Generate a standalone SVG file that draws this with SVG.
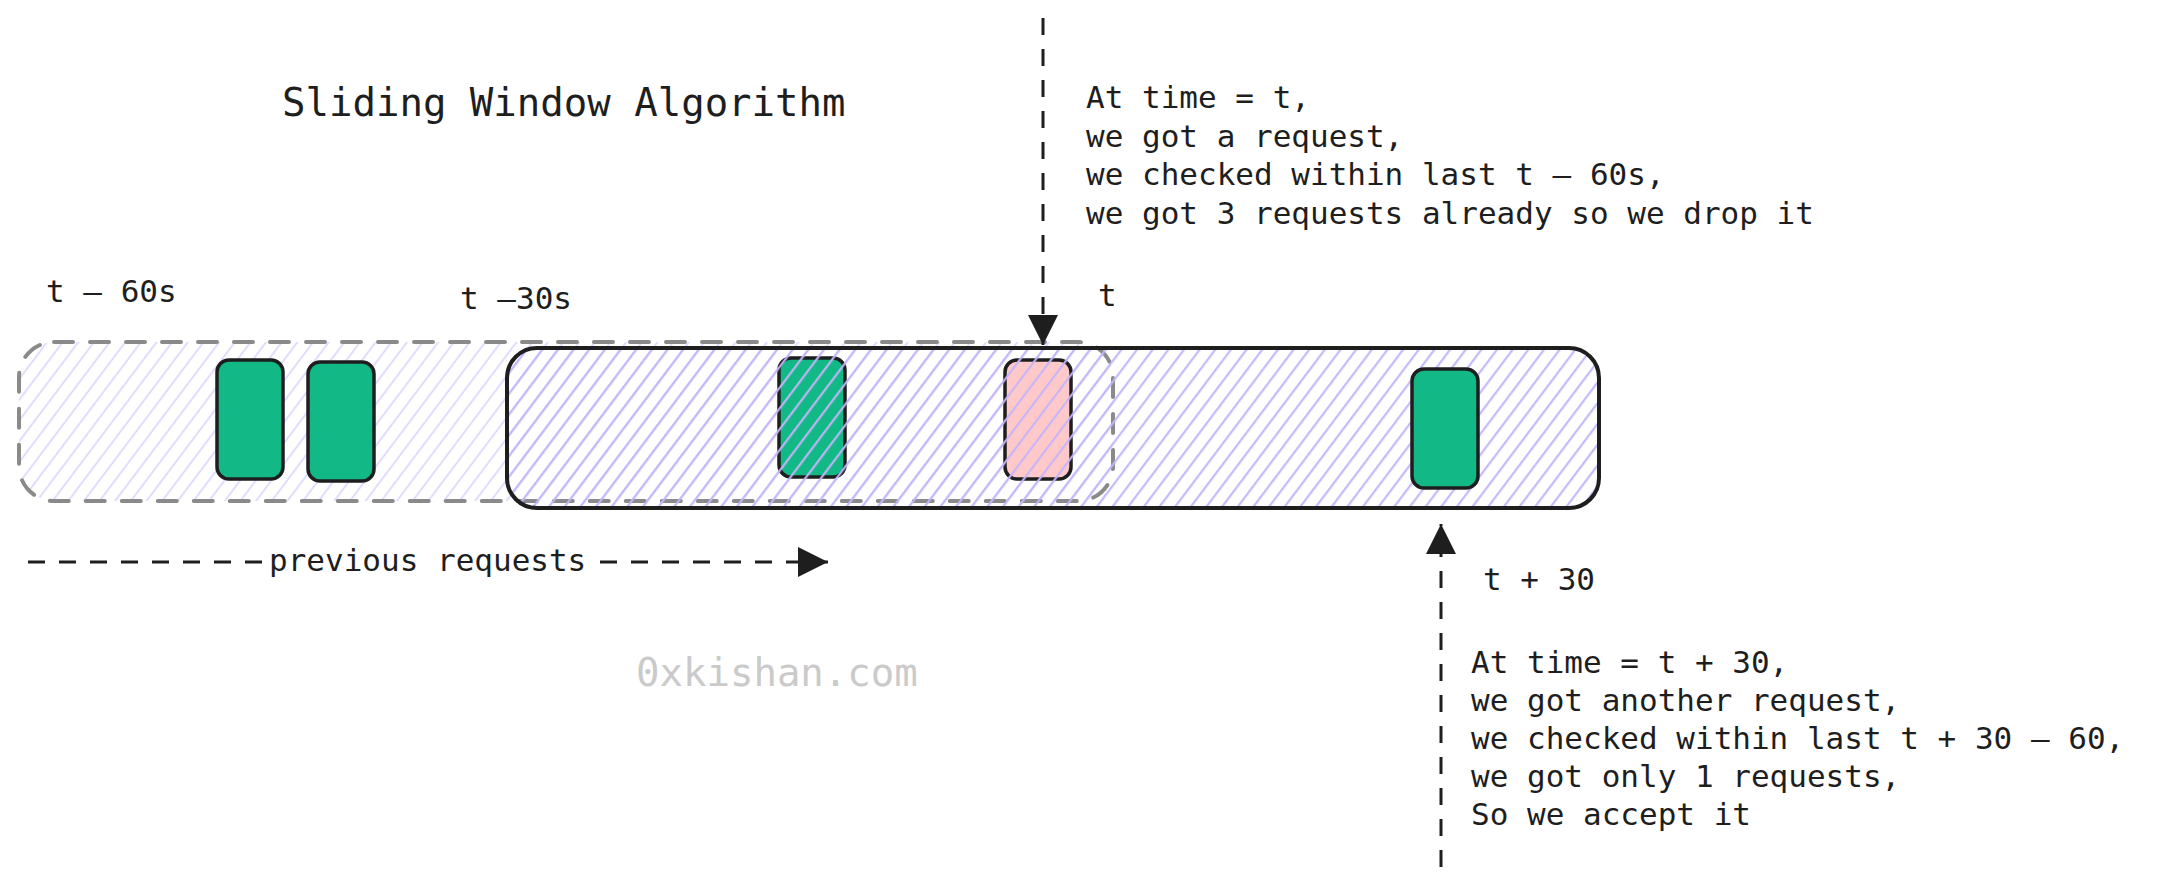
<svg xmlns="http://www.w3.org/2000/svg" width="2165" height="886" viewBox="0 0 2165 886">
<style>
  text { font-family: "DejaVu Sans Mono", "Liberation Mono", monospace; fill: #1e1e1e; }
  .lbl { font-size: 31px; }
  .title { font-size: 39px; }
  .mark { font-size: 39px; fill: #cacaca; }
  .box { stroke: #1e1e1e; stroke-width: 3.5; }
  .green { fill: #12b886; }
  .pink { fill: #ffc9c9; }
  .conn { fill: none; stroke: #1e1e1e; stroke-width: 3; stroke-dasharray: 17 14; }
</style>
<defs>
  <pattern id="hatchLight" patternUnits="userSpaceOnUse" width="12.5" height="12.5" patternTransform="rotate(37)">
    <line x1="6" y1="0" x2="6" y2="12.5" stroke="#ddd5fd" stroke-width="1.7"/>
  </pattern>
  <pattern id="hatchDark" patternUnits="userSpaceOnUse" width="12.5" height="12.5" patternTransform="rotate(37)">
    <line x1="6" y1="0" x2="6" y2="12.5" stroke="#c5b4fb" stroke-width="2.1"/>
  </pattern>
  <marker id="arrow" markerUnits="userSpaceOnUse" markerWidth="30" markerHeight="30" refX="30" refY="15" orient="auto">
    <path d="M0,0 L30,15 L0,30 Z" fill="#1e1e1e" stroke="none"/>
  </marker>
</defs>

<g id="title"><text class="title" x="282" y="116">Sliding Window Algorithm</text></g>

<g id="previous-window">
  <rect x="19" y="342" width="1094" height="159" rx="35" fill="url(#hatchLight)" stroke="#8a8a8a" stroke-width="4" stroke-dasharray="19 17" stroke-linecap="round"/>
</g>

<g id="req1"><rect class="box green" x="217" y="360" width="66" height="119" rx="12"/></g>
<g id="req2"><rect class="box green" x="308" y="362" width="66" height="119" rx="12"/></g>
<g id="req3"><rect class="box green" x="779" y="358" width="66" height="119" rx="12"/></g>
<g id="req-dropped"><rect class="box pink" x="1005" y="360" width="66" height="119" rx="12"/></g>

<g id="current-window">
  <rect x="507" y="348" width="1092" height="160" rx="30" fill="url(#hatchDark)" stroke="#1e1e1e" stroke-width="4"/>
</g>

<g id="req-accepted"><rect class="box green" x="1412" y="369" width="66" height="119" rx="12"/></g>

<g id="label-t-60"><text class="lbl" x="46" y="302">t – 60s</text></g>
<g id="label-t-30"><text class="lbl" x="460" y="309">t –30s</text></g>
<g id="label-t"><text class="lbl" x="1098" y="306">t</text></g>
<g id="label-t+30"><text class="lbl" x="1483" y="590">t + 30</text></g>

<g id="note-drop">
  <text class="lbl" x="1086" y="108">At time = t,</text>
  <text class="lbl" x="1086" y="146.5">we got a request,</text>
  <text class="lbl" x="1086" y="185">we checked within last t – 60s,</text>
  <text class="lbl" x="1086" y="223.5">we got 3 requests already so we drop it</text>
</g>

<g id="note-accept">
  <text class="lbl" x="1471" y="673">At time = t + 30,</text>
  <text class="lbl" x="1471" y="711">we got another request,</text>
  <text class="lbl" x="1471" y="749">we checked within last t + 30 – 60,</text>
  <text class="lbl" x="1471" y="787">we got only 1 requests,</text>
  <text class="lbl" x="1471" y="825">So we accept it</text>
</g>

<g id="watermark"><text class="mark" x="636" y="686">0xkishan.com</text></g>

<g id="connectors">
  <path class="conn" d="M1043,18 V345" marker-end="url(#arrow)"/>
  <path class="conn" d="M1441,867 V524" marker-end="url(#arrow)"/>
  <path class="conn" d="M28,562 H262 M600,562 H828" marker-end="url(#arrow)"/>
  <text class="lbl" x="269" y="571">previous requests</text>
</g>
</svg>
